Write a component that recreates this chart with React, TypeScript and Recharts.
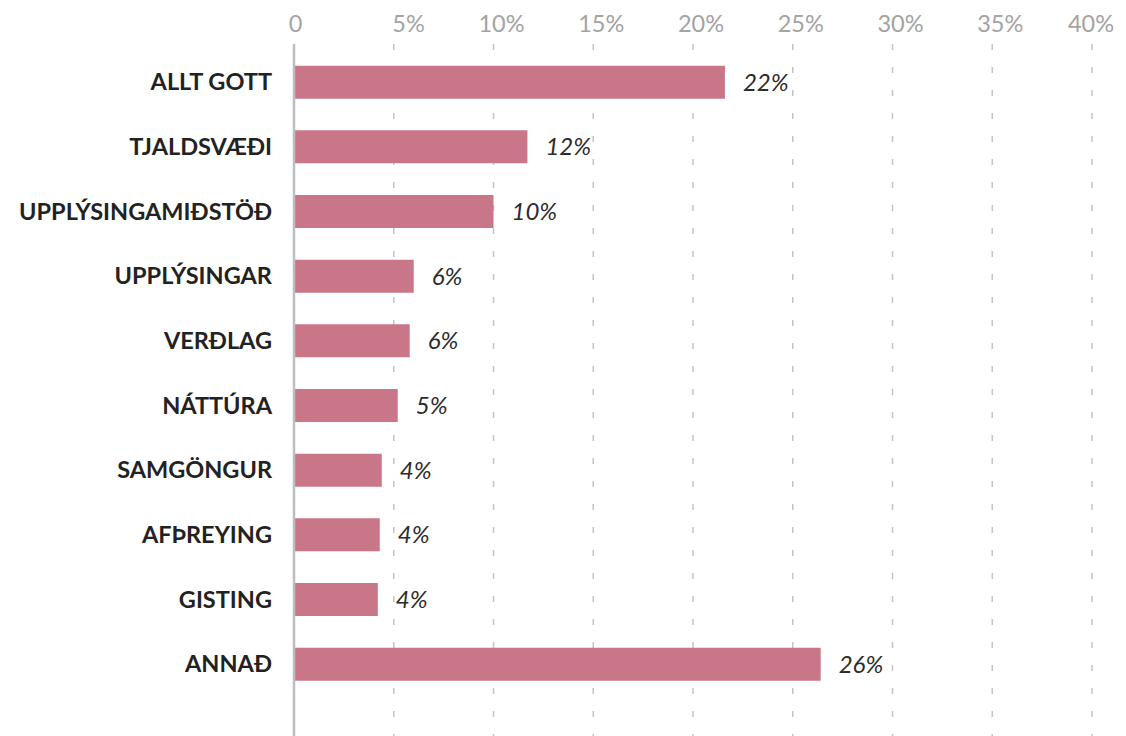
import React from 'react';
import { BarChart, Bar, XAxis, YAxis, CartesianGrid, LabelList } from 'recharts';

const categories = [
  'ALLT GOTT',
  'TJALDSVÆÐI',
  'UPPLÝSINGAMIÐSTÖÐ',
  'UPPLÝSINGAR',
  'VERÐLAG',
  'NÁTTÚRA',
  'SAMGÖNGUR',
  'AFÞREYING',
  'GISTING',
  'ANNAÐ',
];
const values = [21.6, 11.7, 10.0, 6.0, 5.8, 5.2, 4.4, 4.3, 4.2, 26.4];
const valueLabels = ['22%', '12%', '10%', '6%', '6%', '5%', '4%', '4%', '4%', '26%'];
const xTicks = [0, 5, 10, 15, 20, 25, 30, 35, 40];

const data = categories.map((name, i) => ({ name, value: values[i], label: valueLabels[i] }));

const FONT = 'Lato, "Open Sans", sans-serif';
const CHART_W = 1110;

const TopTick = (props: any) => {
  const { x, y, payload } = props;
  const v = payload.value as number;
  if (v === 0) {
    return (
      <text x={x + 1.5} y={y} textAnchor="middle" fill="#a3a3a3" fontSize={23.5} fontFamily={FONT}>
        0
      </text>
    );
  }
  return (
    <text x={Math.min(x + 31, CHART_W - 4)} y={y} textAnchor="end" fill="#a3a3a3" fontSize={23.5} fontFamily={FONT}>
      {`${v}%`}
    </text>
  );
};

export default function App() {
  return (
    <div style={{ width: CHART_W, height: 728, fontFamily: FONT }}>
      <BarChart
        width={CHART_W}
        height={728}
        data={data}
        layout="vertical"
        margin={{ top: 0, right: 26, bottom: 0, left: 0 }}
      >
        <CartesianGrid
          horizontal={false}
          vertical={true}
          stroke="#c4c4c4"
          strokeWidth={1.5}
          strokeDasharray="6 17"
        />
        <XAxis
          type="number"
          orientation="top"
          domain={[0, 40]}
          ticks={xTicks}
          interval={0}
          height={36}
          axisLine={false}
          tickLine={false}
          tickSize={0}
          tickMargin={12}
          tick={<TopTick />}
        />
        <YAxis
          type="category"
          dataKey="name"
          width={286}
          interval={0}
          padding={{ top: 5.67, bottom: 39.67 }}
          axisLine={{ stroke: '#bdbdc2', strokeWidth: 2.5 }}
          tickLine={false}
          tickSize={0}
          tickMargin={22}
          tick={{ fill: '#222222', fontSize: 23.5, fontWeight: 700, fontFamily: FONT }}
        />
        <Bar dataKey="value" fill="#ca7689" barSize={33} isAnimationActive={false}>
          <LabelList
            dataKey="label"
            position="right"
            offset={18}
            fill="#2b2b2b"
            fontSize={24}
            fontStyle="italic"
            fontFamily={FONT}
          />
        </Bar>
      </BarChart>
    </div>
  );
}
